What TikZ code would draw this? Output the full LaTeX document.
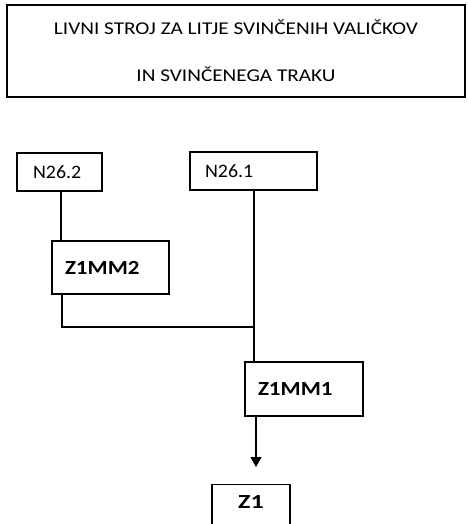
\documentclass[tikz,border=0pt]{standalone}
\usepackage{fontspec}
\setmainfont{Carlito}
\usetikzlibrary{arrows.meta}
\begin{document}
\begin{tikzpicture}[x=1pt,y=-1pt,
  box/.style={draw,line width=1.4pt,inner sep=0pt,align=left},
  lbl/.style={font=\fontsize{19}{21}\selectfont\addfontfeature{FakeStretch=1.05}},
  blbl/.style={font=\bfseries\fontsize{20}{22}\selectfont\addfontfeature{FakeStretch=1.15}},
  conn/.style={line width=1.3pt},
]
\useasboundingbox (0,0) rectangle (467,524);
\clip (0,0) rectangle (467,524);
\node[box,minimum width=458pt,minimum height=92pt,align=center,font=\fontsize{18}{20}\selectfont\addfontfeature{FakeStretch=1.18}] (title) at (236,51)
  {LIVNI STROJ ZA LITJE SVINČENIH VALIČKOV\\[27pt]IN SVINČENEGA TRAKU};
\node[box,lbl,text width=53pt,minimum height=38pt,inner xsep=16pt] (n262) at (59.5,172) {N26.2};
\node[box,lbl,text width=97pt,minimum height=38pt,inner xsep=15pt] (n261) at (253.5,171) {N26.1};
\node[box,blbl,text width=91pt,minimum height=53pt,inner xsep=13pt] (z1mm2) at (110.5,267.5) {Z1MM2};
\node[box,blbl,text width=92pt,minimum height=54pt,inner xsep=13pt] (z1mm1) at (304,389) {Z1MM1};
\node[box,font=\bfseries\fontsize{20}{22}\selectfont\addfontfeature{FakeStretch=1.3},anchor=north,text width=78pt,align=center,text height=24pt,text depth=30pt,inner xsep=0pt,inner ysep=0pt] (z1) at (251,484) {Z1};
\coordinate (j) at (254,327);
\coordinate (aend) at (256,467);
\draw[conn] (z1mm2.south -| 62,0) coordinate (s2) -- (s2 |- j) -- (j);
\draw[conn] (61,0 |- n262.south) coordinate (s1) -- (s1 |- z1mm2.north);
\draw[conn] (n261.south -| j) -- (j |- z1mm1.north);
\draw[conn,-{Triangle[length=10pt,width=11pt]}] (aend |- z1mm1.south) -- (aend);
\end{tikzpicture}
\end{document}
